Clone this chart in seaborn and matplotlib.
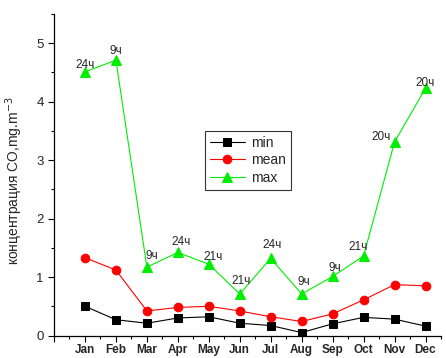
import numpy as np
import pandas as pd
import matplotlib
matplotlib.use("Agg")
import matplotlib.pyplot as plt
from matplotlib.ticker import MultipleLocator
import seaborn as sns

months = ["Jan", "Feb", "Mar", "Apr", "May", "Jun",
          "Jul", "Aug", "Sep", "Oct", "Nov", "Dec"]
co_min = [0.50, 0.27, 0.21, 0.30, 0.32, 0.21, 0.17, 0.05, 0.20, 0.31, 0.28, 0.16]
co_mean = [1.33, 1.12, 0.42, 0.48, 0.50, 0.42, 0.32, 0.24, 0.37, 0.61, 0.87, 0.85]
co_max = [4.51, 4.71, 1.17, 1.42, 1.22, 0.71, 1.32, 0.71, 1.01, 1.36, 3.31, 4.23]
max_hours = ["24ч", "9ч", "9ч", "24ч", "21ч", "21ч", "24ч", "9ч", "9ч", "21ч", "20ч", "20ч"]

# label offsets in pixels (x, y) relative to the max markers
label_offsets = [(0, 7), (0, 9), (5, 11), (3, 10), (4, 7), (1, 13),
                 (1, 13), (2, 12), (2, 8), (-5, 9), (-13, 5), (0, 5)]

pos = np.arange(1, 13)
df = pd.DataFrame({
    "pos": np.tile(pos, 3),
    "value": co_min + co_mean + co_max,
    "stat": ["min"] * 12 + ["mean"] * 12 + ["max"] * 12,
})

sns.set_style("ticks")
plt.rcParams["font.family"] = ["Liberation Sans", "DejaVu Sans"]

fig = plt.figure(figsize=(4.46, 3.58), dpi=100)
ax = fig.add_axes([54 / 446, 1 - 335.5 / 358, (441 - 54) / 446, (335.5 - 14) / 358])

sns.lineplot(
    data=df, x="pos", y="value", hue="stat", style="stat",
    palette=["black", "#ff0000", "#00ee00"],
    markers=["s", "o", "^"], dashes=False, linewidth=0.8,
    legend=False, ax=ax,
)
sizes = [5.2, 6.2, 7]
for line, ms in zip(ax.lines, sizes):
    line.set_markeredgecolor(line.get_color())
    line.set_markerfacecolor(line.get_color())
    line.set_markersize(ms)

for x, y, txt, off in zip(pos, co_max, max_hours, label_offsets):
    ax.annotate(txt, (x, y), xytext=off, textcoords="offset pixels",
                ha="center", va="center", fontsize=8.5)

ax.set_xlim(0, 12.5)
ax.set_ylim(0, 5.5)
ax.set_xticks(np.arange(0, 13))
ax.set_xticklabels([""] + months, fontweight="bold", fontsize=8.5)
ax.xaxis.set_minor_locator(MultipleLocator(0.5))
ax.yaxis.set_major_locator(MultipleLocator(1))
ax.yaxis.set_minor_locator(MultipleLocator(0.5))
ax.tick_params(axis="y", labelsize=9.5, length=4, width=0.8, direction="out", color="black")
ax.tick_params(axis="x", length=4, width=0.8, direction="out", color="black", pad=2)
ax.tick_params(which="minor", length=2.5, width=0.8, color="black")
ax.set_xlabel("")
ax.set_ylabel("концентрация CO,mg.m$^{-3}$", fontsize=10)
ax.yaxis.set_label_coords(-0.075, 0.48)
sns.despine(ax=ax)
for s in ["left", "bottom"]:
    ax.spines[s].set_linewidth(0.9)
    ax.spines[s].set_color("black")

leg = fig.legend(ax.lines, ["min", "mean", "max"],
                 loc="upper left", bbox_to_anchor=(205 / 446, 1 - 131 / 358),
                 borderaxespad=0, frameon=True, fancybox=False, edgecolor="black",
                 fontsize=10, handlelength=2.5, borderpad=0.35, labelspacing=0.25,
                 handletextpad=0.5)
leg.get_frame().set_linewidth(0.8)

fig.savefig("out.png", dpi=100)
